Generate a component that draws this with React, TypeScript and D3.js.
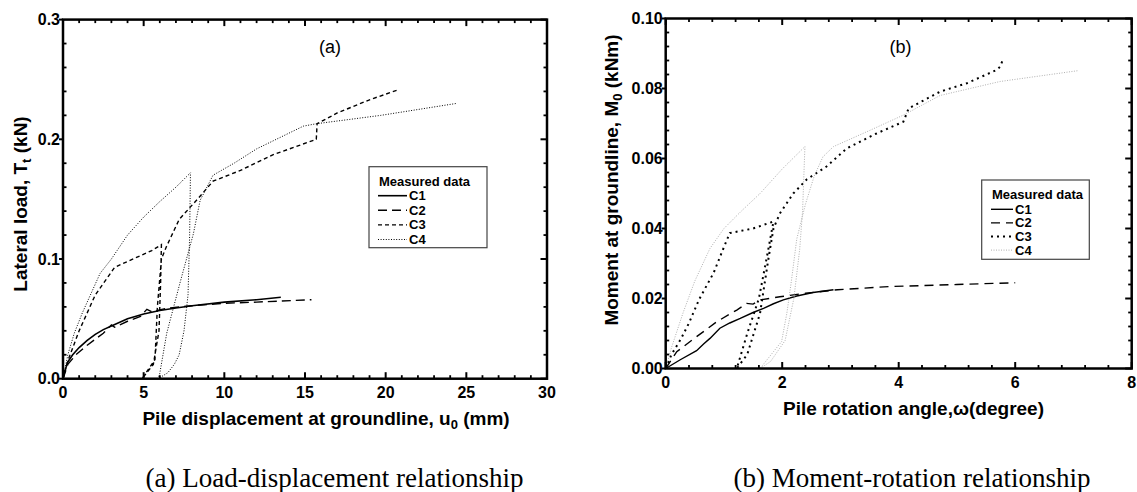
import React from "react";
import * as d3 from "d3";

type Pt = [number, number];

// ---------- Panel (a): load-displacement ----------
const aXTicks = [0, 5, 10, 15, 20, 25, 30];
const aXTickLabels = ["0", "5", "10", "15", "20", "25", "30"];
const aYTicks = [0, 0.1, 0.2, 0.3];
const aYTickLabels = ["0.0", "0.1", "0.2", "0.3"];

const aC1: Pt[] = [
  [0, 0], [0.15, 0.008], [0.3, 0.014], [0.6, 0.02], [1, 0.026], [1.5, 0.032], [2, 0.037],
  [2.5, 0.041], [3, 0.044], [4, 0.05], [5, 0.054], [6, 0.057], [7, 0.059], [8, 0.061],
  [10, 0.064], [12, 0.066], [13.5, 0.068],
];
const aC2: Pt[] = [
  [0, 0], [0.3, 0.012], [0.8, 0.02], [1.5, 0.028], [2.5, 0.038], [3, 0.045], [3.2, 0.043],
  [4, 0.048], [4.8, 0.052], [5.2, 0.058], [5.5, 0.056], [6.5, 0.059], [8, 0.061], [10, 0.063],
  [12, 0.064], [15.4, 0.066],
];
const aC3: Pt[] = [
  [0, 0], [0.3, 0.015], [1, 0.04], [2, 0.07], [3.2, 0.093], [4.5, 0.101], [5.5, 0.107], [6.1, 0.112],
  [6.05, 0.08], [5.95, 0.04], [5.6, 0.012], [4.9, 0],
  [5.7, 0.016], [5.85, 0.06], [6.1, 0.1], [6.4, 0.11], [7.2, 0.133], [8.4, 0.151], [9.3, 0.165],
  [11, 0.174], [13, 0.187], [15.7, 0.2], [15.75, 0.213], [17, 0.222], [19, 0.233], [20.7, 0.241],
];
const aC4: Pt[] = [
  [0, 0], [0.3, 0.02], [0.7, 0.038], [1.2, 0.055], [2.3, 0.088], [3, 0.1], [4, 0.12], [5, 0.135],
  [6, 0.148], [7, 0.16], [7.9, 0.172],
  [7.85, 0.12], [7.75, 0.07], [7.5, 0.04], [7.2, 0.02], [6.9, 0.012], [6.5, 0.005], [5.9, 0],
  [6.0, 0.0045], [6.43, 0.038], [7.25, 0.08], [8.08, 0.121], [8.5, 0.149], [9.3, 0.17], [10.6, 0.18],
  [12, 0.192], [14.9, 0.211], [15.7, 0.213], [19.7, 0.22], [24.4, 0.23],
];

// ---------- Panel (b): moment-rotation ----------
const bXTicks = [0, 2, 4, 6, 8];
const bXTickLabels = ["0", "2", "4", "6", "8"];
const bYTicks = [0, 0.02, 0.04, 0.06, 0.08, 0.1];
const bYTickLabels = ["0.00", "0.02", "0.04", "0.06", "0.08", "0.10"];

const bC1: Pt[] = [
  [0, 0], [0.25, 0.0025], [0.53, 0.0051], [0.65, 0.007], [0.76, 0.0086], [0.93, 0.0115],
  [1.1, 0.013], [1.28, 0.0143], [1.5, 0.016], [1.68, 0.0172], [1.85, 0.0185], [2.02, 0.0196],
  [2.25, 0.0207], [2.53, 0.0217], [2.88, 0.0225],
];
const bC2: Pt[] = [
  [0, 0], [0.19, 0.0048], [0.45, 0.0081], [0.88, 0.0134], [1.22, 0.0167], [1.39, 0.0186],
  [1.5, 0.0184], [1.62, 0.0196], [1.96, 0.0205], [2.4, 0.0215], [2.95, 0.0225], [3.83, 0.0234],
  [5, 0.024], [6.0, 0.0245],
];
const bC3: Pt[] = [
  [0, 0], [0.1, 0.004], [0.26, 0.0084], [0.4, 0.013], [0.575, 0.0198], [0.825, 0.0274],
  [1.0, 0.0347], [1.1, 0.0387], [1.5, 0.04], [1.85, 0.042],
  [1.75, 0.033], [1.6, 0.02], [1.4, 0.01], [1.22, 0],
  [1.4, 0.004], [1.62, 0.0158], [1.76, 0.031], [1.85, 0.04], [1.96, 0.0443], [2.19, 0.05],
  [2.42, 0.054], [2.76, 0.0577], [3.11, 0.0629], [3.6, 0.067], [4.08, 0.0705], [4.17, 0.0743],
  [4.71, 0.0791], [5.17, 0.0815], [5.68, 0.0853], [5.74, 0.0862], [5.79, 0.0883],
];
const bC4: Pt[] = [
  [0, 0], [0.1, 0.006], [0.3, 0.016], [0.5, 0.025], [0.76, 0.0343], [1.0, 0.04], [1.3, 0.045],
  [1.62, 0.05], [2.0, 0.057], [2.39, 0.0634],
  [2.35, 0.045], [2.3, 0.034], [2.2, 0.02], [2.05, 0.008], [1.8, 0.002], [1.62, 0],
  [1.85, 0.0048], [1.99, 0.0077], [2.08, 0.0158], [2.16, 0.0253], [2.25, 0.037], [2.4, 0.047],
  [2.55, 0.055], [2.7, 0.0605], [2.88, 0.0634], [3.5, 0.068], [4.08, 0.0724], [4.71, 0.078],
  [5.74, 0.082], [7.08, 0.0851],
];

const seriesNames = ["C1", "C2", "C3", "C4"];
const legendTitle = "Measured data";

const SANS = "'Liberation Sans', Arial, Helvetica, sans-serif";
const SERIF = "'Liberation Serif', 'Times New Roman', serif";

type LineStyle = { dash: string; width: number; color: string };

const aStyles: LineStyle[] = [
  { dash: "none", width: 1.6, color: "#000" },
  { dash: "9,5", width: 1.4, color: "#000" },
  { dash: "4,3", width: 1.4, color: "#000" },
  { dash: "1,1.6", width: 1, color: "#000" },
];
const bStyles: LineStyle[] = [
  { dash: "none", width: 1.4, color: "#000" },
  { dash: "9,6", width: 1.4, color: "#000" },
  { dash: "2,4", width: 2, color: "#000" },
  { dash: "1,1.5", width: 1, color: "#b0b0b0" },
];

type PanelProps = {
  left: number; right: number; top: number; bottom: number;
  xDomain: [number, number]; yDomain: [number, number];
  xTicks: number[]; xTickLabels: string[]; xMinor: number;
  yTicks: number[]; yTickLabels: string[]; yMinor: number;
  series: Pt[][]; styles: LineStyle[];
};

function Panel(p: PanelProps) {
  const x = d3.scaleLinear().domain(p.xDomain).range([p.left, p.right]);
  const y = d3.scaleLinear().domain(p.yDomain).range([p.bottom, p.top]);
  const line = d3.line<Pt>().x((d) => x(d[0])).y((d) => y(d[1]));
  const xm = d3.range(p.xDomain[0], p.xDomain[1] + 1e-9, p.xMinor).filter(
    (v) => !p.xTicks.some((t) => Math.abs(t - v) < 1e-9)
  );
  const ym = d3.range(p.yDomain[0], p.yDomain[1] + 1e-9, p.yMinor).filter(
    (v) => !p.yTicks.some((t) => Math.abs(t - v) < 1e-9)
  );
  const MJ = 6.5, MN = 3.5;
  return (
    <g>
      {p.series.map((s, i) => (
        <path key={i} d={line(s) || ""} fill="none" stroke={p.styles[i].color}
          strokeWidth={p.styles[i].width}
          strokeDasharray={p.styles[i].dash === "none" ? undefined : p.styles[i].dash} />
      ))}
      {/* frame */}
      <rect x={p.left} y={p.top} width={p.right - p.left} height={p.bottom - p.top}
        fill="none" stroke="#000" strokeWidth={2.5} />
      {/* major ticks */}
      {p.xTicks.map((t, i) => (
        <g key={"xt" + i}>
          <line x1={x(t)} x2={x(t)} y1={p.bottom} y2={p.bottom - MJ} stroke="#000" strokeWidth={2} />
          <line x1={x(t)} x2={x(t)} y1={p.top} y2={p.top + MJ} stroke="#000" strokeWidth={2} />
        </g>
      ))}
      {xm.map((t, i) => (
        <g key={"xm" + i}>
          <line x1={x(t)} x2={x(t)} y1={p.bottom} y2={p.bottom - MN} stroke="#000" strokeWidth={1.8} />
          <line x1={x(t)} x2={x(t)} y1={p.top} y2={p.top + MN} stroke="#000" strokeWidth={1.8} />
        </g>
      ))}
      {p.yTicks.map((t, i) => (
        <g key={"yt" + i}>
          <line x1={p.left} x2={p.left - 4} y1={y(t)} y2={y(t)} stroke="#000" strokeWidth={2} />
          <line x1={p.right} x2={p.right - MJ} y1={y(t)} y2={y(t)} stroke="#000" strokeWidth={2} />
        </g>
      ))}
      {ym.map((t, i) => (
        <g key={"ym" + i}>
          <line x1={p.left} x2={p.left + MN} y1={y(t)} y2={y(t)} stroke="#000" strokeWidth={1.8} />
          <line x1={p.right} x2={p.right - MN} y1={y(t)} y2={y(t)} stroke="#000" strokeWidth={1.8} />
        </g>
      ))}
      {/* tick labels */}
      {p.xTicks.map((t, i) => (
        <text key={"xl" + i} x={x(t)} y={p.bottom + 14} textAnchor="middle" dominantBaseline="central"
          fontFamily={SANS} fontWeight="bold" fontSize={16}>{p.xTickLabels[i]}</text>
      ))}
      {p.yTicks.map((t, i) => (
        <text key={"yl" + i} x={p.left - 3} y={y(t)} textAnchor="end" dominantBaseline="central"
          fontFamily={SANS} fontWeight="bold" fontSize={16}>{p.yTickLabels[i]}</text>
      ))}
    </g>
  );
}

function Legend({ x, y, w, h, titleY, rowY, rowStep, sx0, sx1, tx, styles }: {
  x: number; y: number; w: number; h: number; titleY: number; rowY: number; rowStep: number;
  sx0: number; sx1: number; tx: number; styles: LineStyle[];
}) {
  return (
    <g>
      <rect x={x} y={y} width={w} height={h} fill="#fff" stroke="#444" strokeWidth={1.2} />
      <text x={sx0 + 1} y={titleY} dominantBaseline="central" fontFamily={SANS} fontWeight="bold" fontSize={13}>
        {legendTitle}
      </text>
      {seriesNames.map((n, i) => {
        const yy = rowY + i * rowStep;
        const s = styles[i];
        return (
          <g key={n}>
            <line x1={sx0} x2={sx1} y1={yy} y2={yy} stroke={s.color} strokeWidth={s.width}
              strokeDasharray={s.dash === "none" ? undefined : s.dash} />
            <text x={tx} y={yy} dominantBaseline="central" fontFamily={SANS} fontWeight="bold" fontSize={13}>{n}</text>
          </g>
        );
      })}
    </g>
  );
}

export default function App() {
  return (
    <div style={{ position: "absolute", left: 0, top: 0 }}>
      <svg width={1137} height={492} viewBox="0 0 1137 492" style={{ display: "block", background: "#fff" }}>
        <rect x={0} y={0} width={1137} height={492} fill="#fff" />
        <Panel left={63} right={547} top={19.6} bottom={378.7} xDomain={[0, 30]} yDomain={[0, 0.3]}
          xTicks={aXTicks} xTickLabels={aXTickLabels} xMinor={1}
          yTicks={aYTicks} yTickLabels={aYTickLabels} yMinor={0.02}
          series={[aC1, aC2, aC3, aC4]} styles={aStyles} />
        <Panel left={665.7} right={1131.7} top={18.5} bottom={368.5} xDomain={[0, 8]} yDomain={[0, 0.1]}
          xTicks={bXTicks} xTickLabels={bXTickLabels} xMinor={0.4}
          yTicks={bYTicks} yTickLabels={bYTickLabels} yMinor={0.004}
          series={[bC1, bC2, bC3, bC4]} styles={bStyles} />

        <Legend x={369} y={166.7} w={118} h={81} titleY={181.7} rowY={195.7} rowStep={14.6}
          sx0={378} sx1={407} tx={409} styles={aStyles} />
        <Legend x={981.7} y={180} w={107.6} h={79.3} titleY={194.3} rowY={209.3} rowStep={13.6}
          sx0={991} sx1={1013} tx={1015} styles={bStyles} />

        <text x={330} y={47} textAnchor="middle" dominantBaseline="central" fontFamily={SANS} fontSize={18}>(a)</text>
        <text x={900.5} y={46.7} textAnchor="middle" dominantBaseline="central" fontFamily={SANS} fontSize={18}>(b)</text>

        {/* axis titles */}
        <text x={326} y={425} textAnchor="middle" fontFamily={SANS} fontWeight="bold" fontSize={19}>
          Pile displacement at groundline, u<tspan fontSize={13} dy={4}>0</tspan><tspan dy={-4}> (mm)</tspan>
        </text>
        <text x={913.5} y={415} textAnchor="middle" fontFamily={SANS} fontWeight="bold" fontSize={19}>
          Pile rotation angle,ω(degree)
        </text>
        <text transform="translate(27,204) rotate(-90)" textAnchor="middle" fontFamily={SANS} fontWeight="bold" fontSize={19}>
          Lateral load, T<tspan fontSize={13} dy={4}>t</tspan><tspan dy={-4}> (kN)</tspan>
        </text>
        <text transform="translate(618,180) rotate(-90)" textAnchor="middle" fontFamily={SANS} fontWeight="bold" fontSize={19}>
          Moment at groundline, M<tspan fontSize={13} dy={4}>0</tspan><tspan dy={-4}> (kNm)</tspan>
        </text>

        {/* captions */}
        <text x={334.5} y={487} textAnchor="middle" fontFamily={SERIF} fontSize={27}>(a) Load-displacement relationship</text>
        <text x={912} y={487} textAnchor="middle" fontFamily={SERIF} fontSize={27}>(b) Moment-rotation relationship</text>
      </svg>
    </div>
  );
}
